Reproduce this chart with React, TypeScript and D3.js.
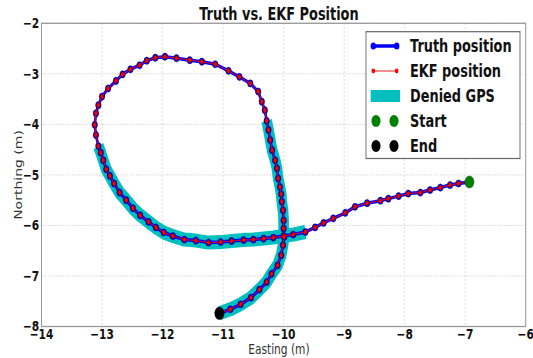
import { useRef, useEffect } from 'react'
import * as d3 from 'd3'

// The reference image is squeezed horizontally, so the chart is laid out
// in a wider virtual box and scaled back in x.
const W = 533
const H = 358
const SX = 0.76
const VW = W / SX

const xTicks = [-14, -13, -12, -11, -10, -9, -8, -7, -6]
const yTicks = [-8, -7, -6, -5, -4, -3, -2]

// truth trajectory, start -> end
const truthEast = [
  -6.93, -7.11, -7.25, -7.41, -7.58, -7.74, -7.94, -8.1, -8.27, -8.4,
  -8.62, -8.82, -8.98, -9.18, -9.34, -9.48, -9.64, -9.84, -10.0, -10.17,
  -10.33, -10.5, -10.66, -10.86, -11.04, -11.24, -11.45, -11.64, -11.83, -11.98,
  -12.11, -12.23, -12.37, -12.49, -12.6, -12.71, -12.8, -12.87, -12.93, -12.98,
  -13.02, -13.06, -13.1, -13.12, -13.1, -13.06, -13.0, -12.9, -12.77, -12.66,
  -12.53, -12.38, -12.26, -12.12, -11.96, -11.77, -11.55, -11.35, -11.13, -10.91,
  -10.73, -10.55, -10.42, -10.36, -10.31, -10.28, -10.25, -10.22, -10.19, -10.14,
  -10.11, -10.09, -10.06, -10.04, -10.03, -10.01, -10.0, -10.0, -9.99, -10.01,
  -10.04, -10.1, -10.2, -10.28, -10.4, -10.54, -10.71, -10.88, -11.06,
]
const truthNorth = [
  -5.14, -5.17, -5.2, -5.25, -5.3, -5.35, -5.37, -5.42, -5.47, -5.51,
  -5.56, -5.63, -5.75, -5.86, -5.95, -6.04, -6.13, -6.18, -6.21, -6.24,
  -6.26, -6.28, -6.29, -6.31, -6.33, -6.34, -6.3, -6.28, -6.21, -6.14,
  -6.04, -5.93, -5.8, -5.66, -5.5, -5.35, -5.17, -5.02, -4.89, -4.71,
  -4.56, -4.43, -4.21, -4.01, -3.78, -3.62, -3.45, -3.29, -3.14, -3.01,
  -2.91, -2.83, -2.74, -2.68, -2.66, -2.69, -2.73, -2.76, -2.81, -2.94,
  -3.06, -3.19, -3.35, -3.55, -3.72, -3.93, -4.11, -4.31, -4.51, -4.71,
  -4.87, -5.07, -5.24, -5.38, -5.53, -5.7, -5.9, -6.06, -6.23, -6.39,
  -6.59, -6.79, -6.96, -7.12, -7.27, -7.43, -7.56, -7.66, -7.74,
]
// EKF estimate sits on top of the truth at this scale
const ekfEast = truthEast
const ekfNorth = truthNorth

// index ranges (inclusive) of the truth path flown without GPS
const deniedRanges: [number, number][] = [
  [16, 41],
  [65, 88],
]

const legendLabels = ['Truth position', 'EKF position', 'Denied GPS', 'Start', 'End']

const FONT = "'DejaVu Sans', sans-serif"
const minus = (t: number) => String(t).replace('-', '\u2212')

export default function App() {
  const svgRef = useRef<SVGSVGElement>(null)

  useEffect(() => {
    document.body.style.margin = '0'
    const svg = svgRef.current
    if (!svg) return

    const sel = d3.select(svg)
    sel.selectAll('*').remove()
    sel.attr('width', W).attr('height', H)
    sel.append('rect').attr('width', W).attr('height', H).attr('fill', '#fff')

    const g = sel.append('g').attr('transform', `scale(${SX},1)`)

    const x0 = 41.5 / SX
    const x1 = 525.7 / SX
    const y0 = 23.3
    const y1 = 326.5
    const x = d3.scaleLinear().domain([-14, -6]).range([x0, x1])
    const y = d3.scaleLinear().domain([-8, -2]).range([y1, y0])

    // grid + tick labels
    xTicks.forEach((t) => {
      g.append('line')
        .attr('x1', x(t)).attr('x2', x(t)).attr('y1', y0).attr('y2', y1)
        .attr('stroke', '#cfcfcf').attr('stroke-width', 1.2).attr('stroke-dasharray', '1.5,2.5')
      g.append('text')
        .attr('x', x(t)).attr('y', 339)
        .attr('text-anchor', 'middle')
        .attr('font-family', FONT).attr('font-weight', 'bold').attr('font-size', '14px')
        .attr('fill', '#111')
        .text(minus(t))
    })
    yTicks.forEach((t) => {
      g.append('line')
        .attr('x1', x0).attr('x2', x1).attr('y1', y(t)).attr('y2', y(t))
        .attr('stroke', '#cfcfcf').attr('stroke-width', 1).attr('stroke-dasharray', '2,2')
      g.append('text')
        .attr('x', x0 - 3).attr('y', y(t) + 5)
        .attr('text-anchor', 'end')
        .attr('font-family', FONT).attr('font-weight', 'bold').attr('font-size', '14px')
        .attr('fill', '#111')
        .text(minus(t))
    })

    const idx = d3.range(truthEast.length)
    const line = d3.line<number>().x((i) => x(truthEast[i])).y((i) => y(truthNorth[i]))
    const ekfLine = d3.line<number>().x((i) => x(ekfEast[i])).y((i) => y(ekfNorth[i]))

    // denied GPS bands
    deniedRanges.forEach(([a, b]) => {
      g.append('path')
        .attr('d', line(d3.range(a, b + 1)))
        .attr('fill', 'none').attr('stroke', '#00bfbf')
        .attr('stroke-width', 14).attr('stroke-linejoin', 'round')
    })

    // truth
    g.append('path')
      .attr('d', line(idx))
      .attr('fill', 'none').attr('stroke', '#0000ff').attr('stroke-width', 3.5)
    idx.forEach((i) => {
      g.append('circle')
        .attr('cx', x(truthEast[i])).attr('cy', y(truthNorth[i])).attr('r', 3.6)
        .attr('fill', '#0000ff').attr('stroke', '#000066').attr('stroke-width', 0.6)
    })

    // EKF
    g.append('path')
      .attr('d', ekfLine(idx))
      .attr('fill', 'none').attr('stroke', '#ff0000').attr('stroke-width', 1)
    idx.forEach((i) => {
      g.append('circle')
        .attr('cx', x(ekfEast[i])).attr('cy', y(ekfNorth[i])).attr('r', 2.4)
        .attr('fill', '#ff0000').attr('stroke', '#550000').attr('stroke-width', 0.5)
    })

    const last = truthEast.length - 1
    g.append('circle')
      .attr('cx', x(truthEast[0])).attr('cy', y(truthNorth[0])).attr('r', 6)
      .attr('fill', '#008000').attr('stroke', '#003300').attr('stroke-width', 0.5)
    g.append('circle')
      .attr('cx', x(truthEast[last])).attr('cy', y(truthNorth[last])).attr('r', 6.5)
      .attr('fill', '#000')

    // frame
    g.append('rect')
      .attr('x', x0).attr('y', y0).attr('width', x1 - x0).attr('height', y1 - y0)
      .attr('fill', 'none').attr('stroke', '#999').attr('stroke-width', 1.3)

    // titles
    g.append('text')
      .attr('x', 367).attr('y', 20.5)
      .attr('text-anchor', 'middle')
      .attr('font-family', FONT).attr('font-weight', 'bold').attr('font-size', '17px')
      .attr('fill', '#111')
      .text('Truth vs. EKF Position')
    g.append('text')
      .attr('x', 367).attr('y', 354)
      .attr('text-anchor', 'middle')
      .attr('font-family', FONT).attr('font-size', '14px').attr('fill', '#333')
      .text('Easting (m)')
    g.append('text')
      .attr('transform', `translate(${22 / SX},175) rotate(-90)`)
      .attr('text-anchor', 'middle')
      .attr('font-family', FONT).attr('font-size', '14px').attr('fill', '#333')
      .text('Northing (m)')

    // legend
    const lx = 366 / SX
    const lw = 154 / SX
    const lg = g.append('g')
    lg.append('rect')
      .attr('x', lx).attr('y', 31.7).attr('width', lw).attr('height', 126.8)
      .attr('fill', '#fff').attr('stroke', '#666').attr('stroke-width', 1.2)
    const hx0 = 373.3 / SX
    const hx1 = 396.7 / SX
    legendLabels.forEach((label, i) => {
      const cy = 46 + i * 25
      const row = lg.append('g')
      if (i === 0 || i === 1) {
        const col = i === 0 ? '#0000ff' : '#ff0000'
        row.append('line')
          .attr('x1', hx0).attr('x2', hx1).attr('y1', cy).attr('y2', cy)
          .attr('stroke', col).attr('stroke-width', i === 0 ? 3.5 : 1)
        ;[hx0, hx1].forEach((cx) => {
          row.append('circle').attr('cx', cx).attr('cy', cy).attr('r', i === 0 ? 3.6 : 2.4)
            .attr('fill', col)
        })
      } else if (i === 2) {
        row.append('rect')
          .attr('x', 370.7 / SX).attr('y', cy - 6).attr('width', 29.3 / SX).attr('height', 12)
          .attr('fill', '#00bfbf')
      } else {
        ;[376 / SX, 394 / SX].forEach((cx) => {
          row.append('circle').attr('cx', cx).attr('cy', cy).attr('r', 6)
            .attr('fill', i === 3 ? '#008000' : '#000')
        })
      }
      row.append('text')
        .attr('x', 410 / SX).attr('y', cy + 6)
        .attr('font-family', FONT).attr('font-weight', 'bold').attr('font-size', '17px')
        .attr('fill', '#111')
        .text(label)
    })
  }, [])

  return <svg ref={svgRef} style={{ display: 'block' }} width={W} height={H} viewBox={`0 0 ${W} ${H}`} />
}
